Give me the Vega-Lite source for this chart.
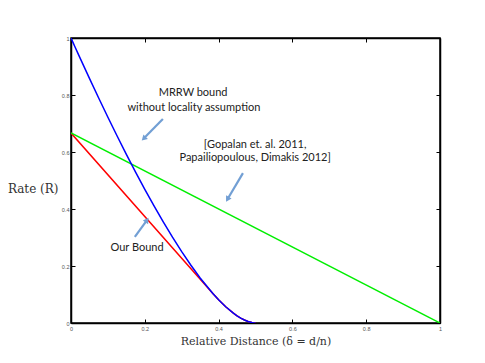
{
  "$schema": "https://vega.github.io/schema/vega-lite/v6.json",
  "width": 369,
  "height": 285,
  "autosize": "none",
  "padding": {"left": 71, "top": 38, "right": 45, "bottom": 40},
  "background": "white",
  "config": {"view": {"stroke": "black", "strokeWidth": 1.5}},
  "datasets": {
    "curves": [
      {"series": "MRRW", "delta": 0, "rate": 1},
      {"series": "MRRW", "delta": 0.005, "rate": 0.98559},
      {"series": "MRRW", "delta": 0.01, "rate": 0.97124},
      {"series": "MRRW", "delta": 0.02, "rate": 0.94268},
      {"series": "MRRW", "delta": 0.03, "rate": 0.91432},
      {"series": "MRRW", "delta": 0.05, "rate": 0.85821},
      {"series": "MRRW", "delta": 0.075, "rate": 0.7894},
      {"series": "MRRW", "delta": 0.1, "rate": 0.72193},
      {"series": "MRRW", "delta": 0.125, "rate": 0.65606},
      {"series": "MRRW", "delta": 0.15, "rate": 0.59186},
      {"series": "MRRW", "delta": 0.175, "rate": 0.52946},
      {"series": "MRRW", "delta": 0.2, "rate": 0.469},
      {"series": "MRRW", "delta": 0.225, "rate": 0.41064},
      {"series": "MRRW", "delta": 0.25, "rate": 0.35458},
      {"series": "MRRW", "delta": 0.275, "rate": 0.30102},
      {"series": "MRRW", "delta": 0.3, "rate": 0.25023},
      {"series": "MRRW", "delta": 0.325, "rate": 0.20248},
      {"series": "MRRW", "delta": 0.35, "rate": 0.15814},
      {"series": "MRRW", "delta": 0.385, "rate": 0.1026},
      {"series": "MRRW", "delta": 0.4, "rate": 0.08147},
      {"series": "MRRW", "delta": 0.42, "rate": 0.05614},
      {"series": "MRRW", "delta": 0.44, "rate": 0.03451},
      {"series": "MRRW", "delta": 0.45, "rate": 0.02526},
      {"series": "MRRW", "delta": 0.46, "rate": 0.0172},
      {"series": "MRRW", "delta": 0.47, "rate": 0.01041},
      {"series": "MRRW", "delta": 0.48, "rate": 0.00509},
      {"series": "MRRW", "delta": 0.49, "rate": 0.00147},
      {"series": "MRRW", "delta": 0.495, "rate": 0.00042},
      {"series": "MRRW", "delta": 0.5, "rate": 0},
      {"series": "Ours", "delta": 0, "rate": 0.66667},
      {"series": "Ours", "delta": 0.385, "rate": 0.1026},
      {"series": "Ours", "delta": 0.4, "rate": 0.08147},
      {"series": "Ours", "delta": 0.42, "rate": 0.05614},
      {"series": "Ours", "delta": 0.44, "rate": 0.03451},
      {"series": "Ours", "delta": 0.45, "rate": 0.02526},
      {"series": "Ours", "delta": 0.46, "rate": 0.0172},
      {"series": "Ours", "delta": 0.47, "rate": 0.01041},
      {"series": "Ours", "delta": 0.48, "rate": 0.00509},
      {"series": "Ours", "delta": 0.49, "rate": 0.00147},
      {"series": "Ours", "delta": 0.495, "rate": 0.00042},
      {"series": "Ours", "delta": 0.5, "rate": 0},
      {"series": "Singleton", "delta": 0, "rate": 0.66667},
      {"series": "Singleton", "delta": 1, "rate": 0}
    ],
    "notes": [
      {"text": "MRRW bound", "x": 0.331, "y": 0.807},
      {"text": "without locality assumption", "x": 0.333, "y": 0.754},
      {"text": "[Gopalan et. al. 2011,", "x": 0.499, "y": 0.625},
      {"text": "Papailiopoulous, Dimakis 2012]", "x": 0.499, "y": 0.579},
      {"text": "Our Bound", "x": 0.179, "y": 0.263}
    ],
    "arrows": [
      {"id": "a1", "x": 0.249, "y": 0.716, "x2": 0.197, "y2": 0.647},
      {"id": "a2", "x": 0.466, "y": 0.526, "x2": 0.424, "y2": 0.434},
      {"id": "a3", "x": 0.173, "y": 0.302, "x2": 0.206, "y2": 0.361}
    ]
  },
  "layer": [
    {
      "data": {"name": "curves"},
      "transform": [{"filter": "datum.series !== 'MRRW'"}],
      "mark": {"type": "line", "strokeWidth": 1.5, "clip": true},
      "encoding": {
        "x": {
          "field": "delta", "type": "quantitative",
          "scale": {"domain": [0, 1], "nice": false, "zero": false},
          "axis": {
            "orient": "bottom", "values": [0, 0.2, 0.4, 0.6, 0.8, 1], "format": "~g",
            "grid": false, "tickSize": -4, "tickColor": "black", "tickWidth": 1,
            "domainColor": "black", "domainWidth": 1.5,
            "labelFont": "Liberation Sans", "labelFontSize": 5.5, "labelColor": "#555", "labelPadding": 7,
            "labelFlush": false,
            "title": "Relative Distance (δ = d/n)",
            "titleFont": "DejaVu Serif", "titleFontSize": 11, "titleFontWeight": "normal", "titleColor": "#333",
            "titlePadding": 4
          }
        },
        "y": {
          "field": "rate", "type": "quantitative",
          "scale": {"domain": [0, 1], "nice": false, "zero": false},
          "axis": {
            "orient": "left", "values": [0, 0.2, 0.4, 0.6, 0.8, 1], "format": "~g",
            "grid": false, "tickSize": -4, "tickColor": "black", "tickWidth": 1,
            "domainColor": "black", "domainWidth": 1.5,
            "labelFont": "Liberation Sans", "labelFontSize": 5.5, "labelColor": "#555", "labelPadding": 6,
            "labelFlush": false,
            "title": "Rate (R)", "titleAngle": 0, "titleAlign": "right", "titleBaseline": "middle",
            "titleX": -13, "titleY": 150,
            "titleFont": "DejaVu Serif", "titleFontSize": 12, "titleFontWeight": "normal", "titleColor": "#333"
          }
        },
        "color": {
          "field": "series", "type": "nominal",
          "scale": {"domain": ["MRRW", "Ours", "Singleton"], "range": ["#0000ff", "#ff0000", "#00ee00"]},
          "legend": null
        },
        "order": {"field": "delta", "type": "quantitative"}
      }
    },
    {
      "data": {"name": "curves"},
      "transform": [{"filter": "datum.series === 'MRRW'"}],
      "mark": {"type": "line", "strokeWidth": 1.5, "clip": true},
      "encoding": {
        "x": {"field": "delta", "type": "quantitative", "axis": null},
        "y": {"field": "rate", "type": "quantitative", "axis": null},
        "color": {"field": "series", "type": "nominal", "legend": null},
        "order": {"field": "delta", "type": "quantitative"}
      }
    },
    {
      "data": {"name": "curves"},
      "transform": [{"filter": "datum.series === 'Singleton'"}],
      "mark": {"type": "line", "strokeWidth": 0, "opacity": 0},
      "encoding": {
        "x": {"field": "delta", "type": "quantitative",
          "axis": {"orient": "top", "values": [0, 0.2, 0.4, 0.6, 0.8, 1], "labels": false, "title": null, "grid": false,
            "tickSize": -4, "tickColor": "black", "domainColor": "black", "domainWidth": 1.5}},
        "y": {"field": "rate", "type": "quantitative",
          "axis": {"orient": "right", "values": [0, 0.2, 0.4, 0.6, 0.8, 1], "labels": false, "title": null, "grid": false,
            "tickSize": -4, "tickColor": "black", "domainColor": "black", "domainWidth": 1.5}}
      }
    },
    {
      "data": {"name": "notes"},
      "mark": {"type": "text", "font": "Lato", "fontSize": 11, "color": "#222", "align": "center", "baseline": "middle"},
      "encoding": {
        "x": {"field": "x", "type": "quantitative", "axis": null},
        "y": {"field": "y", "type": "quantitative", "axis": null},
        "text": {"field": "text"}
      }
    },
    {
      "data": {"name": "arrows"},
      "mark": {"type": "rule", "color": "#729fd4", "strokeWidth": 2.2},
      "encoding": {
        "x": {"field": "x", "type": "quantitative", "axis": null},
        "y": {"field": "y", "type": "quantitative", "axis": null},
        "x2": {"field": "x2"},
        "y2": {"field": "y2"}
      }
    },
    {
      "data": {"name": "arrows"},
      "transform": [{"filter": "datum.id === 'a1'"}],
      "mark": {"type": "point", "shape": "triangle-up", "filled": true, "color": "#729fd4", "size": 40, "angle": 225, "opacity": 1},
      "encoding": {
        "x": {"field": "x2", "type": "quantitative", "axis": null},
        "y": {"field": "y2", "type": "quantitative", "axis": null}
      }
    },
    {
      "data": {"name": "arrows"},
      "transform": [{"filter": "datum.id === 'a2'"}],
      "mark": {"type": "point", "shape": "triangle-up", "filled": true, "color": "#729fd4", "size": 40, "angle": 210, "opacity": 1},
      "encoding": {
        "x": {"field": "x2", "type": "quantitative", "axis": null},
        "y": {"field": "y2", "type": "quantitative", "axis": null}
      }
    },
    {
      "data": {"name": "arrows"},
      "transform": [{"filter": "datum.id === 'a3'"}],
      "mark": {"type": "point", "shape": "triangle-up", "filled": true, "color": "#729fd4", "size": 40, "angle": 34, "opacity": 1},
      "encoding": {
        "x": {"field": "x2", "type": "quantitative", "axis": null},
        "y": {"field": "y2", "type": "quantitative", "axis": null}
      }
    }
  ],
  "resolve": {"axis": {"x": "independent", "y": "independent"}}
}
